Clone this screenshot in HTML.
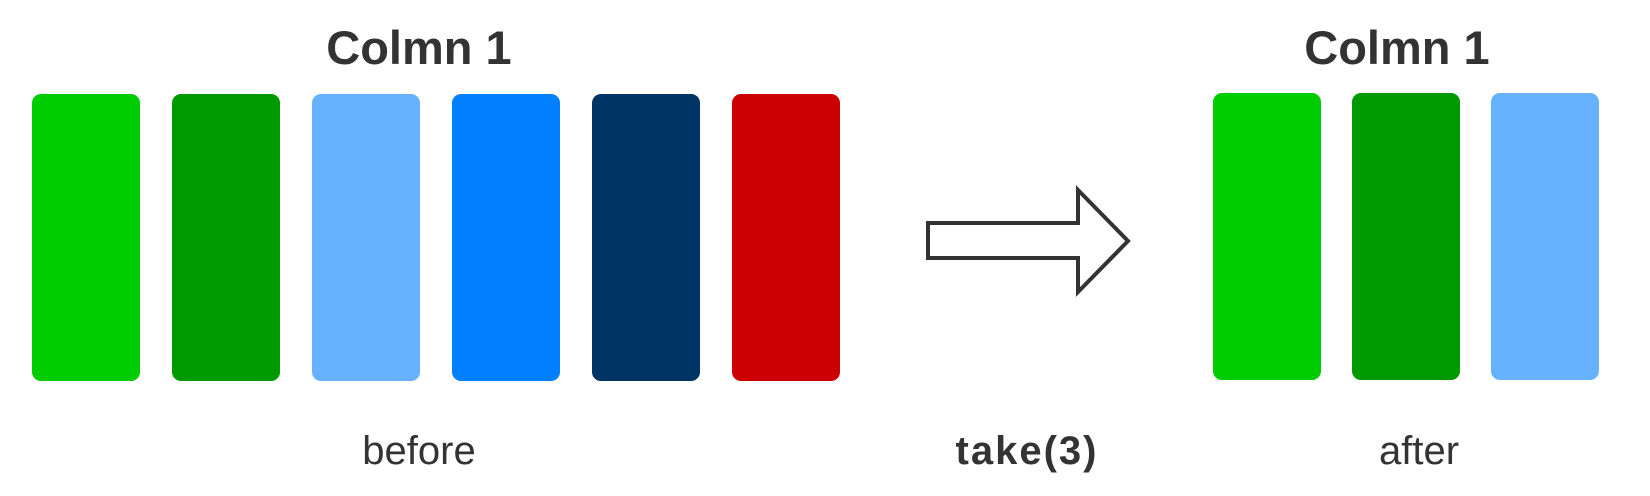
<!DOCTYPE html>
<html><head><meta charset="utf-8"><style>
html,body{margin:0;padding:0;background:#fff;}
svg{display:block;font-family:"Liberation Sans","DejaVu Sans",sans-serif;}
</style></head><body>
<svg id="chart" width="1650" height="496" viewBox="0 0 1650 496">
<text x="419" y="64" text-anchor="middle" font-size="47" font-weight="bold" fill="#333">Colmn 1</text>
<text x="1397" y="64" text-anchor="middle" font-size="47" font-weight="bold" fill="#333">Colmn 1</text>
<g id="before"></g><g id="after"></g>
<path d="M928,223 L1078,223 L1078,190 L1128,241 L1078,292 L1078,258 L928,258 Z" fill="#fff" stroke="#333" stroke-width="4"/>
<text x="419" y="464" text-anchor="middle" font-size="40" fill="#333">before</text>
<text x="1027" y="464" text-anchor="middle" font-size="40" font-weight="bold" letter-spacing="2" fill="#333">take(3)</text>
<text x="1419" y="464" text-anchor="middle" font-size="40" fill="#333">after</text>
</svg>
<script>
const beforeColors=["#00cc00","#009900","#66b2ff","#0080ff","#003366","#cc0000"];
const takeCount=3;
const NS="http://www.w3.org/2000/svg";
function draw(gid,colors,x0,step,y,h,prefix){
  const g=document.getElementById(gid);
  colors.forEach((c,i)=>{
    const r=document.createElementNS(NS,"rect");
    r.setAttribute("x",x0+i*step);r.setAttribute("y",y);
    r.setAttribute("width",108);r.setAttribute("height",h);
    r.setAttribute("rx",9);r.setAttribute("fill",c);
    
    
    g.appendChild(r);
  });
}
draw("before",beforeColors,32,140,94,287,"before");
draw("after",beforeColors.slice(0,takeCount),1213,139,93,287,"after");
</script>
</body></html>
